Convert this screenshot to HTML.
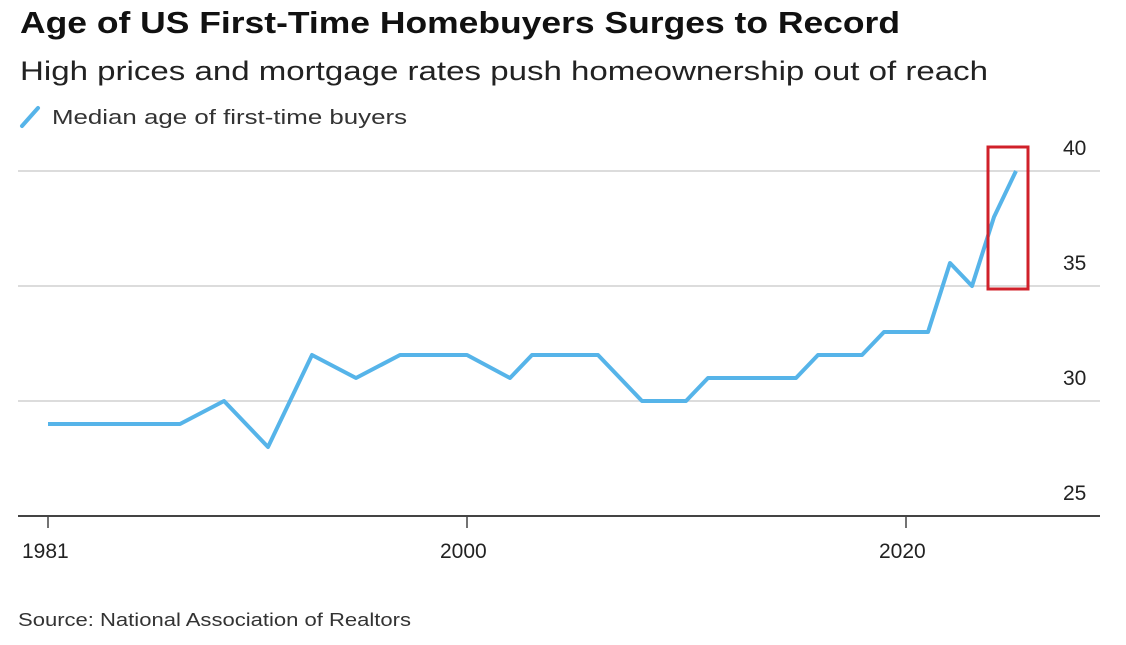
<!DOCTYPE html>
<html><head><meta charset="utf-8"><style>
html,body{margin:0;padding:0;background:#fff;}
svg{display:block;font-family:"Liberation Sans",Arial,sans-serif;}
</style></head><body>
<svg width="1126" height="645" viewBox="0 0 1126 645">
<text x="20" y="33" font-size="31" font-weight="bold" fill="#111" textLength="880" lengthAdjust="spacingAndGlyphs">Age of US First-Time Homebuyers Surges to Record</text>
<text x="20" y="80" font-size="27" fill="#222" textLength="968" lengthAdjust="spacingAndGlyphs">High prices and mortgage rates push homeownership out of reach</text>
<line x1="22" y1="126" x2="38" y2="108" stroke="#56b4e9" stroke-width="4" stroke-linecap="round"/>
<text x="52" y="124" font-size="20" fill="#333" textLength="355" lengthAdjust="spacingAndGlyphs">Median age of first-time buyers</text>
<g stroke="#dcdcdc" stroke-width="2">
<line x1="18" y1="171" x2="1100" y2="171"/>
<line x1="18" y1="286" x2="1100" y2="286"/>
<line x1="18" y1="401" x2="1100" y2="401"/>
</g>
<line x1="18" y1="516" x2="1100" y2="516" stroke="#444" stroke-width="2"/>
<g stroke="#444" stroke-width="1.5">
<line x1="48" y1="516" x2="48" y2="528"/>
<line x1="467" y1="516" x2="467" y2="528"/>
<line x1="906" y1="516" x2="906" y2="528"/>
</g>
<g font-size="21" fill="#222">
<text x="1063" y="155">40</text>
<text x="1063" y="270">35</text>
<text x="1063" y="385">30</text>
<text x="1063" y="500">25</text>
<text x="22" y="558">1981</text>
<text x="440" y="558">2000</text>
<text x="879" y="558">2020</text>
</g>
<polyline fill="none" stroke="#56b4e9" stroke-width="4" stroke-linejoin="round" points="48,424 180,424 224,401 268,447 312,355 356,378 400,355 467,355 510,378 532,355 598,355 642,401 686,401 708,378 796,378 818,355 862,355 884,332 928,332 950,263 972,286 994,217 1016,171"/>
<rect x="988" y="147" width="40" height="142" fill="none" stroke="#d0202a" stroke-width="3"/>
<text x="18" y="626" font-size="18" fill="#333" textLength="393" lengthAdjust="spacingAndGlyphs">Source: National Association of Realtors</text>
</svg>
</body></html>
